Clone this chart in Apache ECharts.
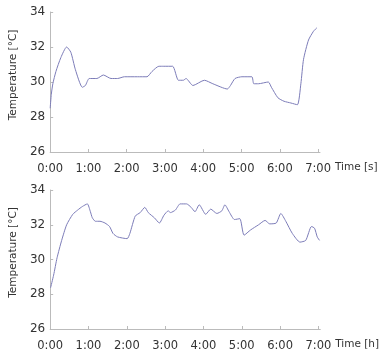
<!DOCTYPE html>
<html><head><meta charset="utf-8">
<script src="https://cdn.jsdelivr.net/npm/echarts@6/dist/echarts.min.js"></script>
<style>html,body{margin:0;padding:0;background:#fff}#c{width:380px;height:354px}</style>
</head><body><div id="c"></div>
<script>
// Top chart: time in hours, temperature in °C
const topTime = [0,0.03,0.07,0.15,0.28,0.43,0.54,0.66,0.84,0.92,1.02,1.22,1.39,1.59,1.76,1.94,2.28,2.53,2.66,2.84,2.97,3.20,3.35,3.48,3.55,3.73,4.03,4.25,4.63,4.71,4.83,5.01,5.27,5.32,5.44,5.70,5.78,5.95,6.11,6.29,6.46,6.55,6.62,6.75,6.88,6.97];
const topTemp = [28.5,29.3,29.9,30.6,31.4,32.0,31.7,30.7,29.7,29.8,30.2,30.2,30.4,30.2,30.2,30.3,30.3,30.3,30.6,30.9,30.9,30.9,30.1,30.1,30.2,29.8,30.1,29.9,29.6,29.8,30.2,30.3,30.3,29.9,29.9,30.0,29.7,29.1,28.9,28.8,28.7,29.9,31.3,32.4,32.9,33.1];
// Bottom chart
const botTime = [0.01,0.09,0.18,0.30,0.43,0.59,0.72,0.84,0.97,1.05,1.10,1.18,1.30,1.43,1.55,1.64,1.76,2.01,2.08,2.22,2.35,2.47,2.56,2.72,2.85,2.97,3.08,3.14,3.27,3.39,3.56,3.68,3.78,3.89,4.06,4.19,4.35,4.48,4.56,4.67,4.81,4.95,5.06,5.23,5.44,5.61,5.73,5.90,6.02,6.15,6.32,6.52,6.67,6.82,6.90,6.97,7.03];
const botTemp = [28.37,29.1,30.1,31.1,32.0,32.6,32.85,33.05,33.2,32.75,32.4,32.2,32.2,32.1,31.9,31.5,31.3,31.2,31.5,32.5,32.7,33.0,32.7,32.4,32.1,32.55,32.8,32.7,32.85,33.2,33.2,33.0,32.75,33.15,32.6,32.9,32.65,32.8,33.15,32.75,32.3,32.35,31.4,31.7,32.0,32.25,32.05,32.1,32.65,32.2,31.5,31.0,31.1,31.9,31.8,31.3,31.1];
const yTicks = [26,28,30,32,34];
const xTickLabels = ['0:00','1:00','2:00','3:00','4:00','5:00','6:00','7:00'];

const font = 'DejaVu Sans';
const txt = '#333';
const axisLine = {lineStyle:{color:'#bbb',width:1}};
const axisTick = {inside:true,length:3,lineStyle:{color:'#bbb'}};
function xAxis(idx, name){
  return {type:'value',gridIndex:idx,min:0,max:7.05,interval:1,
    axisLine, axisTick, splitLine:{show:false},
    axisLabel:{color:txt,fontFamily:font,fontSize:11.5,margin:11,
      formatter:v=>xTickLabels[Math.round(v)]||''},
    name, nameLocation:'end', nameGap:12,
    nameTextStyle:{color:txt,fontFamily:font,fontSize:10.5,verticalAlign:'top',padding:[10,0,0,0]}};
}
function yAxis(idx){
  return {type:'value',gridIndex:idx,min:yTicks[0],max:yTicks[yTicks.length-1],interval:2,
    axisLine:{show:true,...axisLine}, axisTick:{show:true,...axisTick}, splitLine:{show:false},
    axisLabel:{color:txt,fontFamily:font,fontSize:12,margin:5},
    name:'Temperature [°C]', nameLocation:'middle', nameGap:23,
    nameTextStyle:{color:txt,fontFamily:font,fontSize:10.5,padding:[0,0,0,14]}};
}
const chart = echarts.init(document.getElementById('c'),null,{renderer:'canvas'});
chart.setOption({
  animation:false,
  grid:[{left:44,top:12,width:276,height:140},{left:43,top:190,width:281,height:139}],
  xAxis:[xAxis(0,'Time [s]'),xAxis(1,'Time [h]')],
  yAxis:[yAxis(0),yAxis(1)],
  series:[
    {type:'line',xAxisIndex:0,yAxisIndex:0,showSymbol:false,smooth:0.2,data:topTime.map((t,i)=>[t,topTemp[i]]),lineStyle:{color:'#7c7cb8',width:1}},
    {type:'line',xAxisIndex:1,yAxisIndex:1,showSymbol:false,smooth:0.2,data:botTime.map((t,i)=>[t,botTemp[i]]),lineStyle:{color:'#7c7cb8',width:1}}
  ]
});
</script></body></html>
